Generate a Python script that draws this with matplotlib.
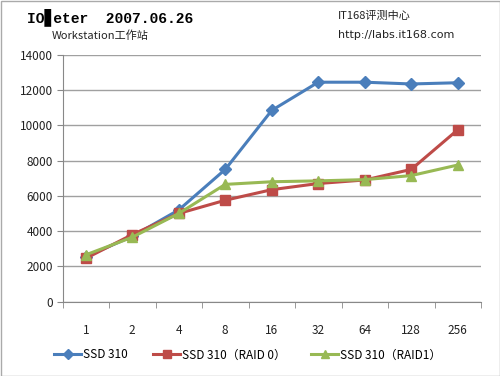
import matplotlib
import matplotlib.pyplot as plt
import numpy as np

plt.rcParams['font.family'] = ['Noto Sans CJK SC', 'DejaVu Sans']

categories = ['1', '2', '4', '8', '16', '32', '64', '128', '256']
ssd310 = [2550, 3700, 5200, 7500, 10850, 12450, 12450, 12350, 12420]
ssd310_raid0 = [2450, 3800, 5000, 5750, 6350, 6700, 6900, 7500, 9750]
ssd310_raid1 = [2650, 3650, 5000, 6650, 6800, 6850, 6920, 7150, 7750]
series_names = ['SSD 310', 'SSD 310（RAID 0）', 'SSD 310（RAID1）']

fig = plt.figure(figsize=(5.0, 3.76), dpi=100)
ax = fig.add_axes([0.125, 0.198, 0.837, 0.656])

x = np.arange(len(categories))
ax.plot(x, ssd310, color='#4a7ebb', linewidth=2.2, marker='D', markersize=6,
        label=series_names[0], zorder=3)
ax.plot(x, ssd310_raid0, color='#be4b48', linewidth=2.2, marker='s', markersize=7,
        label=series_names[1], zorder=4)
ax.plot(x, ssd310_raid1, color='#98b954', linewidth=2.2, marker='^', markersize=7,
        label=series_names[2], zorder=5)

ax.set_xlim(-0.5, len(categories) - 0.5)
ax.set_ylim(0, 14000)
ax.set_yticks(np.arange(0, 14001, 2000))
ax.set_xticks(x)
ax.set_xticklabels(categories)
ax.set_xticks(np.arange(-0.5, len(categories), 1.0), minor=True)
ax.tick_params(axis='x', which='major', length=0, pad=16, labelsize=8.5, labelcolor='#222222')
ax.tick_params(axis='x', which='minor', length=4, color='#888888', direction='out')
ax.tick_params(axis='y', length=4, color='#888888', labelsize=8.5, labelcolor='#222222', pad=3)

ax.grid(axis='y', color='#a0a0a0', linewidth=1.0)
ax.set_axisbelow(True)
for side in ['top', 'right']:
    ax.spines[side].set_visible(False)
ax.spines['left'].set_color('#888888')
ax.spines['bottom'].set_color('#888888')

fig.text(0.054, 0.955, 'IO\u258Aeter  2007.06.26', fontsize=10.5, fontweight='bold',
         family=['Liberation Mono', 'DejaVu Sans Mono'], va='center', ha='left')
fig.text(0.104, 0.905, 'Workstation工作站', fontsize=8, va='center', ha='left', color='#222222')
fig.text(0.676, 0.958, 'IT168评测中心', fontsize=8, va='center', ha='left', color='#222222')
fig.text(0.676, 0.908, 'http://labs.it168.com', fontsize=8, va='center', ha='left',
         family='DejaVu Sans', color='#222222')

fig.legend(loc='center', bbox_to_anchor=(0.495, 0.056), ncol=3, frameon=False,
           fontsize=8.5, handlelength=2.3, handletextpad=0.1, columnspacing=2.2,
           markerscale=0.8)

fig.patches.append(plt.Rectangle((0.001, 0.001), 0.998, 0.997, transform=fig.transFigure,
                                 fill=False, edgecolor='#aaaaaa', linewidth=1))

plt.savefig('out.png', dpi=100)
